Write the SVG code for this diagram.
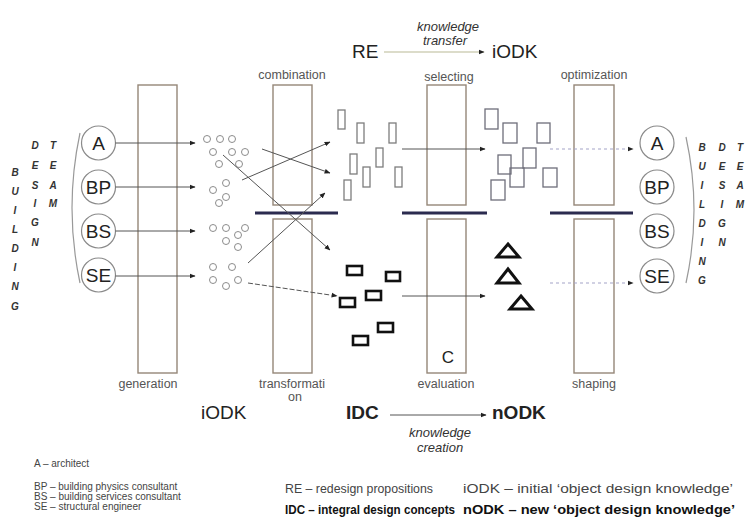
<svg xmlns="http://www.w3.org/2000/svg" width="746" height="517" viewBox="0 0 746 517">
<defs>
<marker id="ah" viewBox="0 0 10 10" refX="9" refY="5" markerWidth="6" markerHeight="6" markerUnits="userSpaceOnUse" orient="auto"><path d="M0,1 L10,5 L0,9 Z" fill="#222"/></marker>
<style>
text{font-family:"Liberation Sans",Arial,sans-serif;}
.col{fill:none;stroke:#958778;stroke-width:1.4;}
.bar{stroke:#2b2b4f;stroke-width:3;}
.team{fill:#fff;stroke:#8a8a8a;stroke-width:1.2;}
.tt{font-size:19px;fill:#222;text-anchor:middle;}
.vl{font-size:10px;font-style:italic;font-weight:bold;fill:#333;text-anchor:middle;}
.lab{font-size:12.5px;fill:#555;text-anchor:middle;}
.dot{fill:none;stroke:#8c8c8c;stroke-width:1;}
.idea{fill:none;stroke:#7d7d7d;stroke-width:1.3;}
.sel{fill:none;stroke:#6e6e7a;stroke-width:1.3;}
.idc{fill:none;stroke:#111;stroke-width:2.6;}
.tri{fill:none;stroke:#111;stroke-width:3;stroke-linejoin:miter;}
.arr{stroke:#555;stroke-width:1;fill:none;marker-end:url(#ah);}
.dash{stroke:#a4a4c8;stroke-width:1.2;stroke-dasharray:3,3;fill:none;marker-end:url(#ah);}
.big{font-size:19px;fill:#222;}
.kl{font-size:13px;font-style:italic;fill:#333;text-anchor:middle;}
.leg{font-size:10px;fill:#444;}
.leg2{font-size:13px;fill:#444;}
.legb{font-size:13px;font-weight:bold;fill:#111;}
.brk{fill:none;stroke:#999;stroke-width:1.2;}
</style>
</defs>
<rect width="746" height="517" fill="#fff"/>

<!-- columns -->
<g id="col-generation"><rect class="col" x="138" y="85" width="39" height="288"/><text class="lab" x="148" y="388">generation</text></g>
<g id="col-transformation"><rect class="col" x="273" y="85" width="39" height="120"/><rect class="col" x="273" y="219" width="39" height="154"/><line class="bar" x1="255" y1="213" x2="338" y2="213"/><text class="lab" x="292" y="79">combination</text><text class="lab" x="292" y="388">transformati</text><text class="lab" x="295" y="401">on</text></g>
<g id="col-selecting"><rect class="col" x="427" y="85" width="39" height="120"/><rect class="col" x="427" y="219" width="39" height="154"/><line class="bar" x1="402" y1="213" x2="487" y2="213"/><text class="lab" x="449" y="81">selecting</text><text class="lab" x="446" y="388">evaluation</text><text x="448" y="363" font-size="17" fill="#222" text-anchor="middle">C</text></g>
<g id="col-optimization"><rect class="col" x="574" y="85" width="40" height="120"/><rect class="col" x="574" y="219" width="40" height="154"/><line class="bar" x1="550" y1="213" x2="633" y2="213"/><text class="lab" x="594" y="79">optimization</text><text class="lab" x="594" y="388">shaping</text></g>

<!-- left team -->
<g id="team-left">
<path class="brk" d="M80,133 Q64,208 80,283"/>
<circle class="team" cx="98.5" cy="143" r="17"/><text class="tt" x="98.5" y="150">A</text>
<circle class="team" cx="98.5" cy="187" r="17"/><text class="tt" x="98.5" y="194">BP</text>
<circle class="team" cx="98.5" cy="231" r="17"/><text class="tt" x="98.5" y="238">BS</text>
<circle class="team" cx="98.5" cy="275" r="17"/><text class="tt" x="98.5" y="282">SE</text>
<text class="vl" x="15" y="175.5">B</text><text class="vl" x="15" y="194.5">U</text><text class="vl" x="15" y="213.5">I</text><text class="vl" x="15" y="232.5">L</text><text class="vl" x="15" y="251.5">D</text><text class="vl" x="15" y="271">I</text><text class="vl" x="15" y="290">N</text><text class="vl" x="15" y="310">G</text>
<text class="vl" x="35" y="148.5">D</text><text class="vl" x="35" y="168.5">E</text><text class="vl" x="35" y="188.5">S</text><text class="vl" x="35" y="207">I</text><text class="vl" x="35" y="226">G</text><text class="vl" x="35" y="245.5">N</text>
<text class="vl" x="53" y="148.5">T</text><text class="vl" x="53" y="168.5">E</text><text class="vl" x="53" y="188.5">A</text><text class="vl" x="53" y="207">M</text>
</g>

<!-- right team -->
<g id="team-right">
<path class="brk" d="M686,137 Q702,210 686,283"/>
<circle class="team" cx="657" cy="143" r="17"/><text class="tt" x="657" y="150">A</text>
<circle class="team" cx="657" cy="187" r="17"/><text class="tt" x="657" y="194">BP</text>
<circle class="team" cx="657" cy="231" r="17"/><text class="tt" x="657" y="238">BS</text>
<circle class="team" cx="657" cy="276" r="17"/><text class="tt" x="657" y="283">SE</text>
<text class="vl" x="702" y="150.5">B</text><text class="vl" x="702" y="169.5">U</text><text class="vl" x="702" y="188.5">I</text><text class="vl" x="702" y="207.5">L</text><text class="vl" x="702" y="226.5">D</text><text class="vl" x="702" y="245.5">I</text><text class="vl" x="702" y="264.5">N</text><text class="vl" x="702" y="283.5">G</text>
<text class="vl" x="722" y="150.5">D</text><text class="vl" x="722" y="169.5">E</text><text class="vl" x="722" y="188.5">S</text><text class="vl" x="722" y="207.5">I</text><text class="vl" x="722" y="226.5">G</text><text class="vl" x="722" y="245.5">N</text>
<text class="vl" x="740" y="150.5">T</text><text class="vl" x="740" y="169.5">E</text><text class="vl" x="740" y="188.5">A</text><text class="vl" x="740" y="207.5">M</text>
</g>

<!-- initial knowledge dots -->
<g id="iodk-dots">
<circle class="dot" cx="207" cy="139" r="3.5"/><circle class="dot" cx="220" cy="139" r="3.5"/><circle class="dot" cx="232" cy="139" r="3.5"/>
<circle class="dot" cx="213" cy="152" r="3.5"/><circle class="dot" cx="232" cy="152" r="3.5"/><circle class="dot" cx="245" cy="152" r="3.5"/>
<circle class="dot" cx="219" cy="164" r="3.5"/><circle class="dot" cx="239" cy="164" r="3.5"/>
<circle class="dot" cx="226" cy="183" r="3.5"/><circle class="dot" cx="213" cy="190" r="3.5"/><circle class="dot" cx="226" cy="197" r="3.5"/><circle class="dot" cx="219" cy="203" r="3.5"/>
<circle class="dot" cx="213" cy="228" r="3.5"/><circle class="dot" cx="226" cy="228" r="3.5"/><circle class="dot" cx="245" cy="228" r="3.5"/><circle class="dot" cx="238" cy="235" r="3.5"/><circle class="dot" cx="226" cy="241" r="3.5"/><circle class="dot" cx="238" cy="247" r="3.5"/>
<circle class="dot" cx="213" cy="267" r="3.5"/><circle class="dot" cx="232" cy="267" r="3.5"/><circle class="dot" cx="213" cy="280" r="3.5"/><circle class="dot" cx="238" cy="280" r="3.5"/><circle class="dot" cx="226" cy="286" r="3.5"/>
</g>

<!-- redesign propositions -->
<g id="re-shapes">
<rect class="idea" x="338" y="110" width="7" height="19"/><rect class="idea" x="357" y="123" width="7" height="20"/><rect class="idea" x="389" y="123" width="7" height="20"/><rect class="idea" x="376" y="148" width="7" height="19"/><rect class="idea" x="350" y="154" width="7" height="20"/><rect class="idea" x="363" y="167" width="7" height="20"/><rect class="idea" x="395" y="167" width="7" height="20"/><rect class="idea" x="344" y="180" width="7" height="20"/>
</g>

<!-- selected -->
<g id="selected-shapes">
<rect class="sel" x="485" y="109" width="13" height="20"/><rect class="sel" x="503" y="123" width="14" height="20"/><rect class="sel" x="537" y="123" width="13" height="20"/><rect class="sel" x="523" y="148" width="13" height="20"/><rect class="sel" x="498" y="155" width="13" height="19"/><rect class="sel" x="510" y="168" width="14" height="19"/><rect class="sel" x="543" y="168" width="14" height="19"/><rect class="sel" x="491" y="180" width="14" height="20"/>
</g>

<!-- integral design concepts -->
<g id="idc-shapes">
<rect class="idc" x="347" y="266" width="15" height="9"/><rect class="idc" x="386" y="272" width="14" height="9"/><rect class="idc" x="366" y="291" width="15" height="9"/><rect class="idc" x="340" y="298" width="15" height="9"/><rect class="idc" x="378" y="323" width="15" height="9"/><rect class="idc" x="353" y="336" width="15" height="9"/>
</g>

<!-- new knowledge triangles -->
<g id="nodk-shapes">
<path class="tri" d="M508,244 L519,257 L497,257 Z"/><path class="tri" d="M508,269 L519,283 L497,283 Z"/><path class="tri" d="M521,296 L532,309 L510,309 Z"/>
</g>

<!-- top / bottom labels -->
<g id="re-transfer">
<text class="big" x="352" y="58">RE</text>
<text class="kl" x="448" y="31">knowledge</text><text class="kl" x="445" y="45">transfer</text>
<text class="big" x="492" y="58">iODK</text>
</g>
<g id="idc-creation">
<text class="big" x="201" y="419">iODK</text>
<text class="big" x="346" y="419" font-weight="bold">IDC</text>
<text class="big" x="492" y="419" font-weight="bold">nODK</text>
<text class="kl" x="440" y="437">knowledge</text><text class="kl" x="440" y="452">creation</text>
</g>

<!-- connectors -->
<g id="connectors">
<line class="arr" x1="115.5" y1="143" x2="195" y2="143"/>
<line class="arr" x1="115.5" y1="187" x2="195" y2="187"/>
<line class="arr" x1="115.5" y1="231" x2="195" y2="231"/>
<line class="arr" x1="115.5" y1="276" x2="195" y2="276"/>
<line class="arr" x1="262" y1="149" x2="330" y2="173"/>
<line class="arr" x1="242" y1="180" x2="330" y2="142"/>
<line class="arr" x1="223" y1="155" x2="330" y2="250"/>
<line class="arr" x1="248" y1="263" x2="325" y2="193"/>
<line class="arr" x1="248" y1="283" x2="337" y2="296" stroke-dasharray="5,2"/>
<line class="arr" x1="402" y1="149" x2="485" y2="149"/>
<line class="arr" x1="402" y1="296" x2="485" y2="296"/>
<line class="dash" x1="550" y1="149" x2="633" y2="149"/>
<line class="dash" x1="550" y1="283" x2="633" y2="283"/>
<line x1="384" y1="52" x2="484" y2="52" stroke="#b9b995" stroke-width="1.2" marker-end="url(#ah)"/>
<line class="arr" x1="390" y1="415" x2="486" y2="415"/>
</g>

<!-- legend -->
<g id="legend">
<text class="leg" x="34" y="467">A – architect</text>
<text class="leg" x="34" y="490">BP – building physics consultant</text>
<text class="leg" x="34" y="500">BS – building services consultant</text>
<text class="leg" x="34" y="510">SE – structural engineer</text>
<text class="leg2" x="285" y="493" textLength="148" lengthAdjust="spacingAndGlyphs">RE – redesign propositions</text>
<text class="legb" x="285" y="514" textLength="170" lengthAdjust="spacingAndGlyphs">IDC – integral design concepts</text>
<text class="leg2" x="463" y="493" textLength="270" lengthAdjust="spacingAndGlyphs">iODK – initial ‘object design knowledge’</text>
<text class="legb" x="463" y="514" textLength="272" lengthAdjust="spacingAndGlyphs">nODK – new ‘object design knowledge’</text>
</g>
</svg>
